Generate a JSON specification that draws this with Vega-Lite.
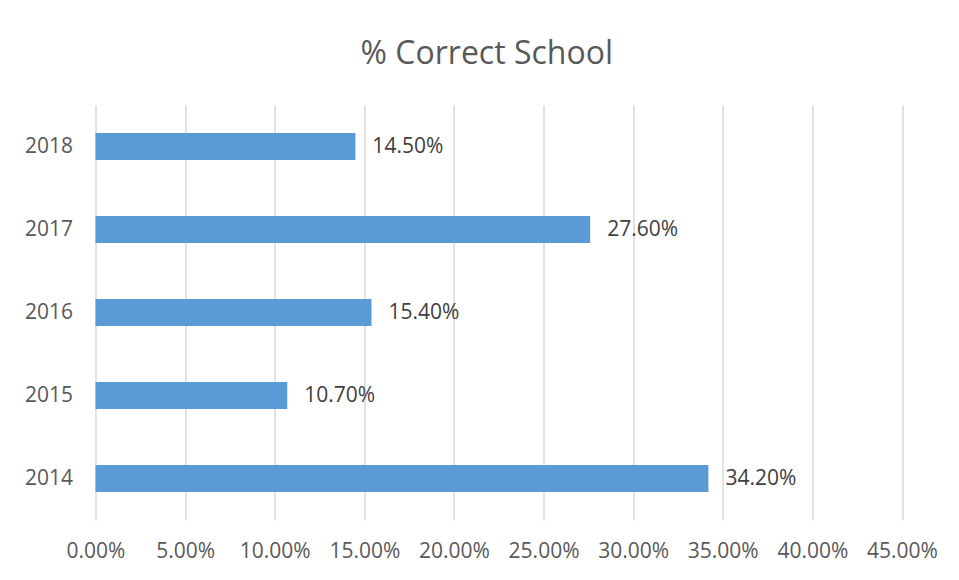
{
  "$schema": "https://vega.github.io/schema/vega-lite/v6.json",
  "width": 806.5,
  "height": 415,
  "autosize": {"type": "none"},
  "padding": {"left": 95.5, "top": 105, "right": 57, "bottom": 60},
  "background": "white",
  "title": {
    "text": "% Correct School",
    "font": "Open Sans",
    "fontSize": 32,
    "fontWeight": "normal",
    "color": "#595959",
    "anchor": "middle",
    "dx": -12,
    "offset": 34
  },
  "config": {
    "view": {"stroke": null},
    "font": "Open Sans"
  },
  "data": {
    "values": [
      {"year": "2018", "pct": 0.145},
      {"year": "2017", "pct": 0.276},
      {"year": "2016", "pct": 0.154},
      {"year": "2015", "pct": 0.107},
      {"year": "2014", "pct": 0.342}
    ]
  },
  "encoding": {
    "y": {
      "field": "year",
      "type": "nominal",
      "sort": "descending",
      "title": null,
      "axis": {
        "domain": false,
        "ticks": false,
        "labelFont": "Open Sans",
        "labelFontSize": 21,
        "labelColor": "#595959",
        "labelPadding": 23
      }
    },
    "x": {
      "field": "pct",
      "type": "quantitative",
      "title": null,
      "scale": {"domain": [0, 0.45], "nice": false},
      "axis": {
        "values": [0, 0.05, 0.1, 0.15, 0.2, 0.25, 0.3, 0.35, 0.4, 0.45],
        "format": ".2%",
        "domain": false,
        "ticks": false,
        "grid": true,
        "gridColor": "#d9d9d9",
        "gridWidth": 1.5,
        "labelFont": "Open Sans",
        "labelFontSize": 21,
        "labelColor": "#595959",
        "labelPadding": 20,
        "labelFlush": false,
        "labelOverlap": false,
        "labelBound": false,
        "labelAlign": "center"
      }
    }
  },
  "layer": [
    {
      "mark": {"type": "bar", "color": "#5b9bd5", "size": 27}
    },
    {
      "mark": {"type": "text", "align": "left", "dx": 17, "font": "Open Sans", "fontSize": 21, "color": "#404040"},
      "encoding": {
        "text": {"field": "pct", "type": "quantitative", "format": ".2%"}
      }
    }
  ]
}
